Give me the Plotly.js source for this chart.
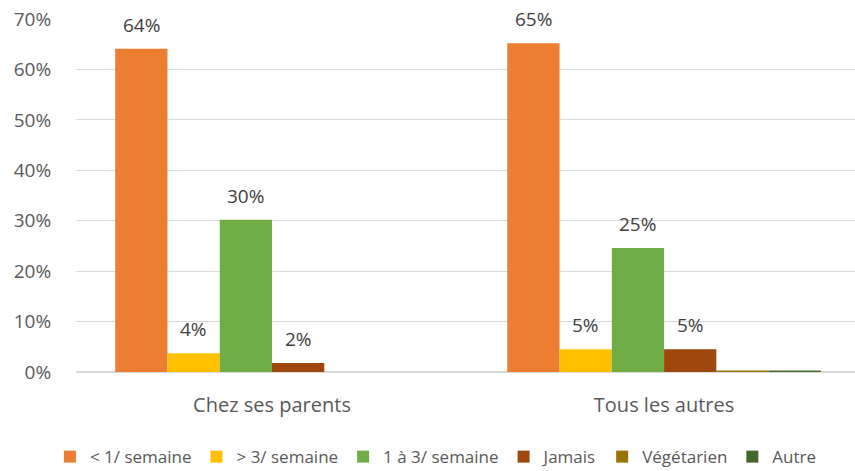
<!DOCTYPE html>
<html><head><meta charset="utf-8">
<script src="https://cdn.plot.ly/plotly-3.0.1.min.js"></script>
<style>body{margin:0}#c{width:855px;height:471px}</style></head>
<body><div id="c"></div>
<script>
const categories = ["Chez ses parents", "Tous les autres"];
const seriesNames = ["< 1/ semaine", "> 3/ semaine", "1 à 3/ semaine", "Jamais", "Végétarien", "Autre"];
const s1 = [64.1, 65.2];
const s2 = [3.7, 4.5];
const s3 = [30.2, 24.6];
const s4 = [1.8, 4.5];
const s5 = [0, 0.3];
const s6 = [0, 0.3];
const labels1 = ["64%", "65%"];
const labels2 = ["4%", "5%"];
const labels3 = ["30%", "25%"];
const labels4 = ["2%", "5%"];
const labels5 = ["", ""];
const labels6 = ["", ""];
const colors = ["#ED7D31", "#FFC000", "#70AD47", "#9E480E", "#997300", "#43682B"];

const values = [s1, s2, s3, s4, s5, s6];
const labels = [labels1, labels2, labels3, labels4, labels5, labels6];
const FONT = "'Open Sans', sans-serif";
const traces = values.map((v, i) => ({
  type: "bar", x: categories, y: v, name: seriesNames[i],
  marker: {color: colors[i]}, hoverinfo: "skip"
}));
const barPx = 52.3;
const annotations = [];
values.forEach((v, i) => v.forEach((y, j) => {
  if (labels[i][j]) annotations.push({
    x: categories[j], y: y, xref: "x", yref: "y", text: labels[i][j], showarrow: false,
    xshift: (i - 2.5) * barPx, yshift: 24, font: {family: FONT, size: 19, color: "#404040"}
  });
}));
Plotly.newPlot("c", traces, {
  width: 855, height: 471,
  margin: {l: 76, r: 0, t: 19, b: 99, autoexpand: false},
  barmode: "group", bargap: 0.2, bargroupgap: 0,
  paper_bgcolor: "#fff", plot_bgcolor: "#fff",
  font: {family: FONT, size: 18, color: "#595959"},
  xaxis: {range: [-0.5, 1.487], showgrid: false, zeroline: false, showline: false, ticks: "", ticklabelstandoff: 19,
          tickfont: {size: 20, color: "#595959"}},
  yaxis: {range: [0, 70], dtick: 10, ticksuffix: "%", gridcolor: "#d9d9d9", zeroline: true, zerolinecolor: "#d9d9d9", zerolinewidth: 1.5,
          ticks: "outside", ticklen: 20, tickcolor: "rgba(0,0,0,0)", tickfont: {size: 19, color: "#595959"}},
  legend: {orientation: "h", x: 0.462, xanchor: "center", y: -0.241, yanchor: "middle", font: {size: 17, color: "#595959"},
           traceorder: "normal", itemwidth: 30},
  annotations: annotations,
  showlegend: true
}, {displayModeBar: false, staticPlot: true});
</script></body></html>
